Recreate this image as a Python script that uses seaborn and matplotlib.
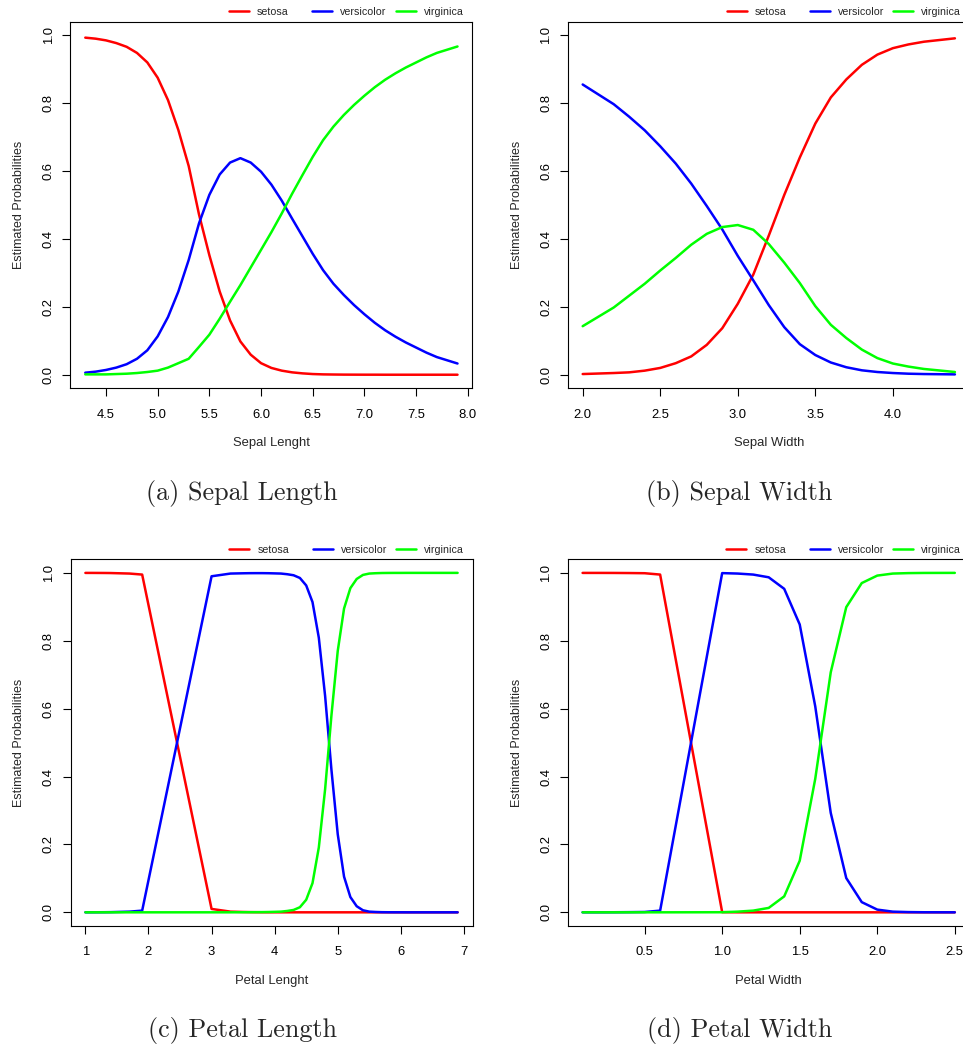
import numpy as np
import pandas as pd
import seaborn as sns
from matplotlib import pyplot as plt
from matplotlib.legend import Legend

species = ["setosa", "versicolor", "virginica"]
colors = {"setosa": "#ff0000", "versicolor": "#0000ff", "virginica": "#00ff00"}

# sepal length
sl_x = [4.3, 4.4, 4.5, 4.6, 4.7, 4.8, 4.9, 5.0, 5.1, 5.2, 5.3, 5.4, 5.5, 5.6, 5.7, 5.8, 5.9, 6.0,
        6.1, 6.2, 6.3, 6.4, 6.5, 6.6, 6.7, 6.8, 6.9, 7.0, 7.1, 7.2, 7.3, 7.4, 7.6, 7.7, 7.9]
sl_setosa = [.993, .990, .985, .977, .966, .948, .920, .875, .809, .721, .615, .472, .352, .245,
             .160, .098, .059, .034, .020, .012, .007, .004, .002, .001, .0006, .0003, .0002,
             .0001, .0001, 0, 0, 0, 0, 0, 0]
sl_versicolor = [.006, .009, .014, .021, .031, .047, .072, .113, .170, .245, .338, .446, .530,
                 .590, .625, .638, .625, .598, .560, .513, .460, .408, .356, .308, .268, .235,
                 .205, .178, .153, .131, .112, .095, .065, .052, .033]
sl_virginica = [.001, .001, .001, .002, .003, .005, .008, .012, .021, .034, .047, .082, .118,
                .165, .215, .264, .316, .368, .420, .475, .533, .588, .642, .691, .731, .765,
                .795, .822, .847, .869, .888, .905, .935, .948, .967]

# sepal width
sw_x = [2.0, 2.2, 2.3, 2.4, 2.5, 2.6, 2.7, 2.8, 2.9, 3.0, 3.1, 3.2, 3.3, 3.4, 3.5, 3.6, 3.7, 3.8,
        3.9, 4.0, 4.1, 4.2, 4.4]
sw_setosa = [.002, .005, .007, .012, .020, .034, .054, .088, .137, .209, .295, .410, .530, .640,
             .740, .817, .870, .913, .943, .962, .973, .981, .991]
sw_versicolor = [.855, .797, .760, .720, .673, .622, .563, .497, .428, .350, .278, .205, .140,
                 .090, .058, .036, .022, .013, .008, .005, .003, .002, .001]
sw_virginica = [.143, .198, .233, .268, .307, .344, .383, .415, .435, .441, .427, .385, .330,
                .270, .202, .147, .108, .074, .049, .033, .024, .017, .008]

# petal length
pl_x = [1.0, 1.1, 1.2, 1.3, 1.4, 1.5, 1.6, 1.7, 1.9, 3.0, 3.3, 3.5, 3.6, 3.7, 3.8, 3.9, 4.0, 4.1,
        4.2, 4.3, 4.4, 4.5, 4.6, 4.7, 4.8, 4.9, 5.0, 5.1, 5.2, 5.3, 5.4, 5.5, 5.6, 5.7, 5.8, 5.9,
        6.0, 6.1, 6.3, 6.4, 6.6, 6.7, 6.9]
pl_setosa = [.9999, .9999, .9998, .9997, .9995, .999, .9985, .998, .995, .010, .002, .001, .0006,
             .0004, .0002, .0001, .0001, 0, 0, 0, 0, 0, 0, 0, 0, 0, 0, 0, 0, 0, 0, 0, 0, 0, 0, 0,
             0, 0, 0, 0, 0, 0, 0]
pl_versicolor = [.0001, .0001, .0002, .0003, .0005, .001, .0015, .002, .005, .990, .998, .9988,
                 .9991, .9992, .9992, .999, .9985, .998, .996, .993, .985, .963, .914, .809,
                 .637, .420, .230, .105, .045, .018, .006, .002, .001, .0004, .0002, .0001,
                 .0001, 0, 0, 0, 0, 0, 0]
pl_virginica = [0, 0, 0, 0, 0, 0, 0, 0, 0, 0, 0, .0002, .0003, .0004, .0006, .0009, .0014, .002,
                .004, .007, .015, .037, .086, .191, .363, .580, .770, .895, .955, .982, .994,
                .998, .999, .9996, .9998, .9999, .9999, 1, 1, 1, 1, 1, 1]

# petal width
pw_x = [0.1, 0.2, 0.3, 0.4, 0.5, 0.6, 1.0, 1.1, 1.2, 1.3, 1.4, 1.5, 1.6, 1.7, 1.8, 1.9, 2.0, 2.1,
        2.2, 2.3, 2.4, 2.5]
pw_setosa = [.9999, .9999, .9998, .9995, .999, .995, .0005, 0, 0, 0, 0, 0, 0, 0, 0, 0, 0, 0, 0,
             0, 0, 0]
pw_versicolor = [.0001, .0001, .0002, .0005, .001, .005, .9993, .998, .995, .987, .953, .848,
                 .607, .293, .101, .030, .008, .002, .0007, .0002, .0001, 0]
pw_virginica = [0, 0, 0, 0, 0, 0, .0002, .002, .005, .013, .047, .152, .393, .707, .899, .970,
                .992, .998, .9993, .9998, .9999, 1.0]

y_ticks = [0.0, 0.2, 0.4, 0.6, 0.8, 1.0]
y_ticklabels = ["0.0", "0.2", "0.4", "0.6", "0.8", "1.0"]

panels = [
    (sl_x, sl_setosa, sl_versicolor, sl_virginica, "Sepal Lenght",
     [4.5, 5.0, 5.5, 6.0, 6.5, 7.0, 7.5, 8.0], ["4.5", "5.0", "5.5", "6.0", "6.5", "7.0", "7.5", "8.0"],
     "(a) Sepal Length"),
    (sw_x, sw_setosa, sw_versicolor, sw_virginica, "Sepal Width",
     [2.0, 2.5, 3.0, 3.5, 4.0], ["2.0", "2.5", "3.0", "3.5", "4.0"],
     "(b) Sepal Width"),
    (pl_x, pl_setosa, pl_versicolor, pl_virginica, "Petal Lenght",
     [1, 2, 3, 4, 5, 6, 7], ["1", "2", "3", "4", "5", "6", "7"],
     "(c) Petal Length"),
    (pw_x, pw_setosa, pw_versicolor, pw_virginica, "Petal Width",
     [0.5, 1.0, 1.5, 2.0, 2.5], ["0.5", "1.0", "1.5", "2.0", "2.5"],
     "(d) Petal Width"),
]

sns.set_style("ticks", {"axes.edgecolor": "black", "xtick.color": "black", "ytick.color": "black"})
plt.rcParams["font.family"] = ["Liberation Sans", "DejaVu Sans"]

W, H = 963, 1045
fig = plt.figure(figsize=(W / 100, H / 100), dpi=100)

# box (left, top) in pixels, box size and caption anchor
boxes = [(70.4, 21.7), (567.8, 21.7), (70.5, 559.3), (567.7, 559.3)]
box_w, box_h = 402.0, 366.6
captions_xy = [(242, 500), (739.5, 500), (242, 1037.5), (739.5, 1037.5)]

for (x, s, v, g, xlabel, xticks, xticklabels, caption), (left, top), (cx, cy) in zip(panels, boxes, captions_xy):
    ax = fig.add_axes([left / W, 1 - (top + box_h) / H, box_w / W, box_h / H])
    df = pd.DataFrame({
        "x": list(x) * 3,
        "p": list(s) + list(v) + list(g),
        "species": ["setosa"] * len(x) + ["versicolor"] * len(x) + ["virginica"] * len(x),
    })
    sns.lineplot(data=df, x="x", y="p", hue="species", hue_order=species, palette=colors,
                 linewidth=1.8, legend=False, errorbar=None, ax=ax)

    span = max(x) - min(x)
    ax.set_xlim(min(x) - 0.04 * span, max(x) + 0.04 * span)
    ax.set_ylim(-0.04, 1.04)
    ax.set_xticks(xticks)
    ax.set_xticklabels(xticklabels)
    ax.set_yticks(y_ticks)
    ax.set_yticklabels(y_ticklabels, rotation=90, va="center")
    ax.tick_params(axis="both", length=5.8, width=0.8, labelsize=9.4, direction="out")
    ax.tick_params(axis="x", pad=9.0)
    ax.tick_params(axis="y", pad=5.5)
    for sp in ax.spines.values():
        sp.set_linewidth(0.8)
        sp.set_visible(True)

    ax.set_xlabel(xlabel, fontsize=9.4)
    ax.set_ylabel("Estimated Probabilities", fontsize=9.0)
    ax.xaxis.set_label_coords(0.5, -0.134)
    ax.yaxis.set_label_coords(-0.112, 0.5)

    # horizontal legend above the box, equal-width columns as in R
    for line, name, fx in zip(ax.get_lines(), species, [0.395, 0.602, 0.81]):
        leg = Legend(ax, [line], [name], loc="center left", bbox_to_anchor=(fx, 1.026),
                     frameon=False, borderpad=0, borderaxespad=0, handlelength=1.87,
                     handletextpad=0.75, fontsize=7.7)
        ax.add_artist(leg)

    fig.text(cx / W, 1 - cy / H, caption, family="cmr10", fontsize=18.8,
             ha="center", va="baseline")

fig.savefig("out.png", dpi=100)
